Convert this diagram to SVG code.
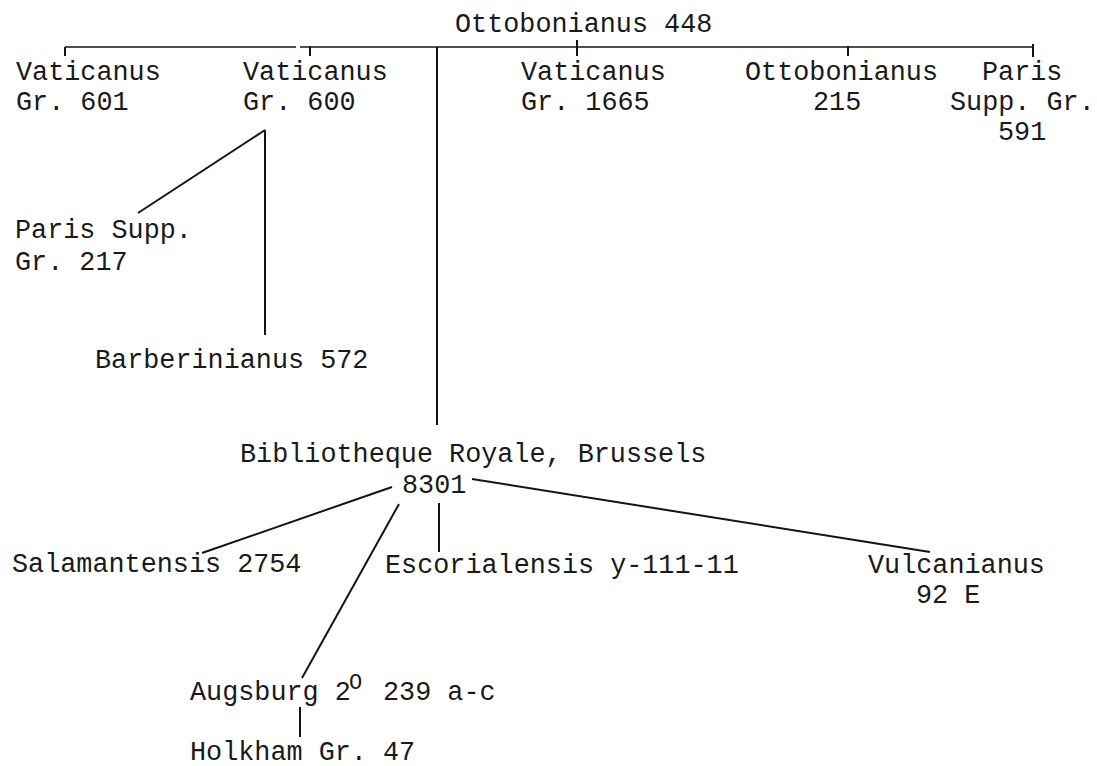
<svg xmlns="http://www.w3.org/2000/svg" width="1097" height="766" viewBox="0 0 1097 766">
<style>
text { font-family: "Liberation Mono", "DejaVu Sans Mono", monospace; font-size: 26.8px; fill: #1a1a1a; }
.sup { font-size: 22px; }
line { stroke: #141414; stroke-width: 2; stroke-linecap: butt; }
.thin { stroke-width: 1.5; }
</style>
<rect width="1097" height="766" fill="#ffffff"/>
<g id="connectors">
  <line class="thin" x1="65" y1="47" x2="296" y2="47"/>
  <line class="thin" x1="300" y1="47" x2="1033" y2="47"/>
  <line x1="65" y1="47" x2="65" y2="56"/>
  <line x1="310" y1="46" x2="310" y2="56"/>
  <line x1="577" y1="40" x2="577" y2="56"/>
  <line x1="848" y1="46" x2="848" y2="56"/>
  <line x1="1033" y1="44" x2="1033" y2="57"/>
  <line x1="437" y1="47" x2="437" y2="425"/>
  <line x1="265" y1="130" x2="265" y2="335"/>
  <line x1="265" y1="130" x2="138" y2="213"/>
  <line x1="392" y1="487" x2="202" y2="553"/>
  <line x1="399" y1="504" x2="302" y2="678"/>
  <line x1="439" y1="503" x2="439" y2="552"/>
  <line x1="472" y1="479" x2="930" y2="552"/>
  <line x1="300" y1="707" x2="300" y2="737"/>
</g>
<g id="ottobonianus448"><text x="455" y="32">Ottobonianus 448</text></g>
<g id="vat601"><text x="16" y="80">Vaticanus</text><text x="16" y="110">Gr. 601</text></g>
<g id="vat600"><text x="243" y="80">Vaticanus</text><text x="243" y="110">Gr. 600</text></g>
<g id="vat1665"><text x="521" y="80">Vaticanus</text><text x="521" y="110">Gr. 1665</text></g>
<g id="otto215"><text x="745" y="80">Ottobonianus</text><text x="813" y="110">215</text></g>
<g id="paris591"><text x="982" y="80">Paris</text><text x="950" y="110">Supp. Gr.</text><text x="998" y="140">591</text></g>
<g id="paris217"><text x="15" y="238">Paris Supp.</text><text x="15" y="270">Gr. 217</text></g>
<g id="barb572"><text x="95" y="368">Barberinianus 572</text></g>
<g id="brussels"><text x="240" y="462">Bibliotheque Royale, Brussels</text><text x="402" y="493">8301</text></g>
<g id="salamantensis"><text x="12" y="572">Salamantensis 2754</text></g>
<g id="escorialensis"><text x="385" y="573">Escorialensis y-111-11</text></g>
<g id="vulcanianus"><text x="868" y="573">Vulcanianus</text><text x="916" y="603">92 E</text></g>
<g id="augsburg"><text x="190" y="700">Augsburg 2</text><text class="sup" x="349" y="689">O</text><text x="383" y="700">239 a-c</text></g>
<g id="holkham"><text x="190" y="760">Holkham Gr. 47</text></g>
</svg>
